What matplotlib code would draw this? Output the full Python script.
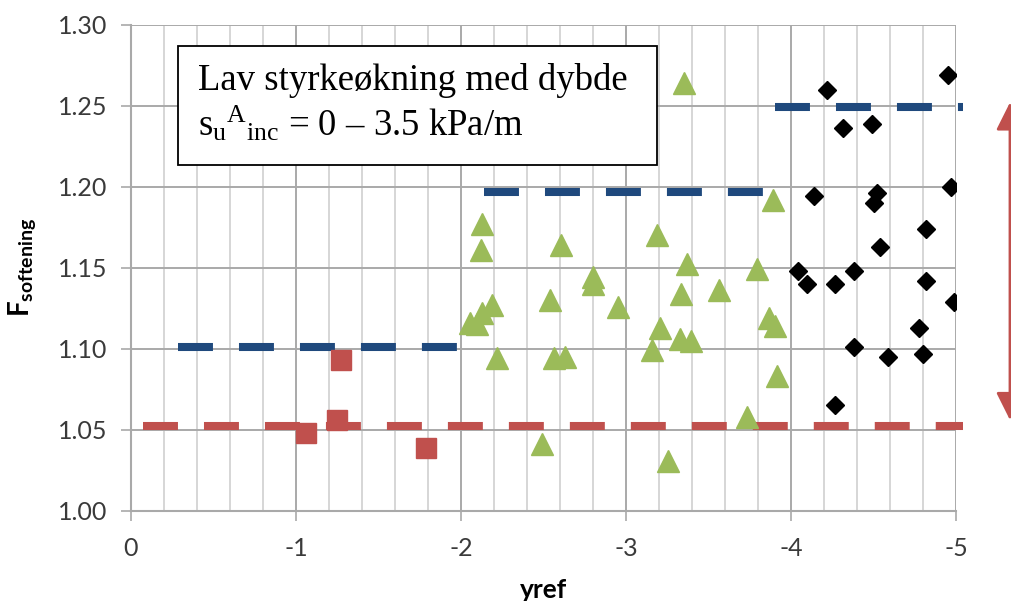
import matplotlib.pyplot as plt
from matplotlib.patches import Rectangle
from matplotlib.ticker import MultipleLocator

plt.rcParams["mathtext.fontset"] = "custom"
plt.rcParams["mathtext.rm"] = "Liberation Serif"
plt.rcParams["mathtext.sf"] = "Lato:bold"

RED = "#C0504D"
GREEN = "#9BBB59"
BLUE = "#1F497D"

# red squares
sq_x = [-1.06, -1.25, -1.27, -1.79]
sq_y = [1.048, 1.056, 1.093, 1.039]

# green triangles
tri_x = [-2.055, -2.095, -2.125, -2.19, -2.121, -2.129, -2.22, -2.49, -2.539, -2.564,
         -2.604, -2.63, -2.802, -2.80, -2.95, -3.156, -3.19, -3.206, -3.256, -3.33,
         -3.332, -3.353, -3.372, -3.392, -3.565, -3.735, -3.796, -3.869, -3.893, -3.903,
         -3.913]
tri_y = [1.116, 1.115, 1.122, 1.127, 1.161, 1.177, 1.094, 1.041, 1.130, 1.094,
         1.164, 1.095, 1.144, 1.140, 1.126, 1.099, 1.170, 1.113, 1.031, 1.106,
         1.134, 1.264, 1.152, 1.105, 1.136, 1.058, 1.149, 1.119, 1.192, 1.114,
         1.083]

# black diamonds
dia_x = [-4.216, -4.95, -4.317, -4.489, -4.141, -4.52, -4.505, -4.97, -4.816, -4.539,
         -4.044, -4.095, -4.267, -4.382, -4.816, -4.988, -4.778, -4.382, -4.586, -4.802,
         -4.267]
dia_y = [1.260, 1.269, 1.236, 1.239, 1.194, 1.196, 1.190, 1.200, 1.174, 1.163,
         1.148, 1.140, 1.140, 1.148, 1.142, 1.129, 1.113, 1.101, 1.095, 1.097,
         1.065]

# dashed reference levels
red_level = 1.0525
red_span = (-0.07, -5.04)
blue_levels = [1.101, 1.197, 1.249]
blue_starts = [-0.285, -2.139, -3.903]
blue_ends = [-1.976, -3.83, -5.04]

fig = plt.figure(figsize=(10.12, 6.01), dpi=100)
ax = fig.add_axes([0.1294, 0.1502, 0.8153, 0.8087])

ax.set_xlim(0, -5)
ax.set_ylim(1.0, 1.3)
ax.xaxis.set_major_locator(MultipleLocator(1))
ax.xaxis.set_minor_locator(MultipleLocator(0.2))
ax.yaxis.set_major_locator(MultipleLocator(0.05))
ax.set_yticklabels([f"{v:.2f}" for v in ax.get_yticks()])
ax.set_xticklabels([f"{v:.0f}" if v != 0 else "0" for v in ax.get_xticks()])

ax.grid(True, which="major", axis="both", color="#a9a9a9", lw=1.4, zorder=0)
ax.grid(True, which="minor", axis="x", color="#d6d6d6", lw=1.4, zorder=0)
ax.set_axisbelow(True)
for s in ["top", "right"]:
    ax.spines[s].set_visible(False)
for s in ["left", "bottom"]:
    ax.spines[s].set_color("#a9a9a9")
    ax.spines[s].set_linewidth(1.5)

ax.tick_params(axis="both", which="major", length=7, width=1.2, color="#a9a9a9",
               labelsize=18, labelcolor="#3a3a3a")
ax.tick_params(axis="x", which="major", pad=12)
ax.tick_params(axis="y", which="major", pad=10)
ax.tick_params(axis="x", which="minor", length=0)
for lab in ax.get_xticklabels() + ax.get_yticklabels():
    lab.set_family("Lato")

dash = (0, (4.34, 3.23))
ax.plot(red_span, [red_level, red_level], color=RED, lw=5.8, ls=dash,
        dash_capstyle="butt", zorder=2, clip_on=False)
for lvl, x0, x1 in zip(blue_levels, blue_starts, blue_ends):
    ax.plot([x0, x1], [lvl, lvl], color=BLUE, lw=5.8, ls=dash,
            dash_capstyle="butt", zorder=2, clip_on=False)

ax.plot(sq_x, sq_y, ls="none", marker="s", ms=15, color=RED, mec=RED, zorder=4)
ax.plot(tri_x, tri_y, ls="none", marker="^", ms=15.5, color=GREEN, mec=GREEN, zorder=4)
ax.plot(dia_x, dia_y, ls="none", marker="D", ms=9.5, color="black", zorder=4)

# annotation box
ax.add_patch(Rectangle((0.057, 0.7113), 0.5806, 0.2449, transform=ax.transAxes,
                       facecolor="white", edgecolor="black", lw=1.3, zorder=3))
ax.text(0.081, 0.8656, "Lav styrkeøkning med dybde", transform=ax.transAxes,
        family="Liberation Serif", fontsize=26.5, va="baseline", color="black", zorder=5)
ax.text(0.081, 0.771, r"$\mathrm{s_u{}^A{}_{inc}}$ = 0 – 3.5 kPa/m", transform=ax.transAxes,
        family="Liberation Serif", fontsize=26.5, va="baseline", color="black", zorder=5)

ax.set_ylabel(r"$\mathsf{F}_{\mathsf{softening}}$", fontsize=20)
ax.yaxis.set_label_coords(-0.112, 0.5)
ax.set_xlabel("yref", family="Lato", fontweight="bold", fontsize=19)
ax.xaxis.set_label_coords(0.5, -0.138)

# double-headed arrow outside the plot on the right
ax.annotate("", xy=(0.998, 1.056), xytext=(0.998, 1.252),
            xycoords=("figure fraction", "data"), textcoords=("figure fraction", "data"),
            arrowprops=dict(arrowstyle="<|-|>,head_length=1.7,head_width=0.85",
                            color=RED, lw=2.0, shrinkA=0, shrinkB=0),
            annotation_clip=False)

fig.savefig("out.png", dpi=100)
